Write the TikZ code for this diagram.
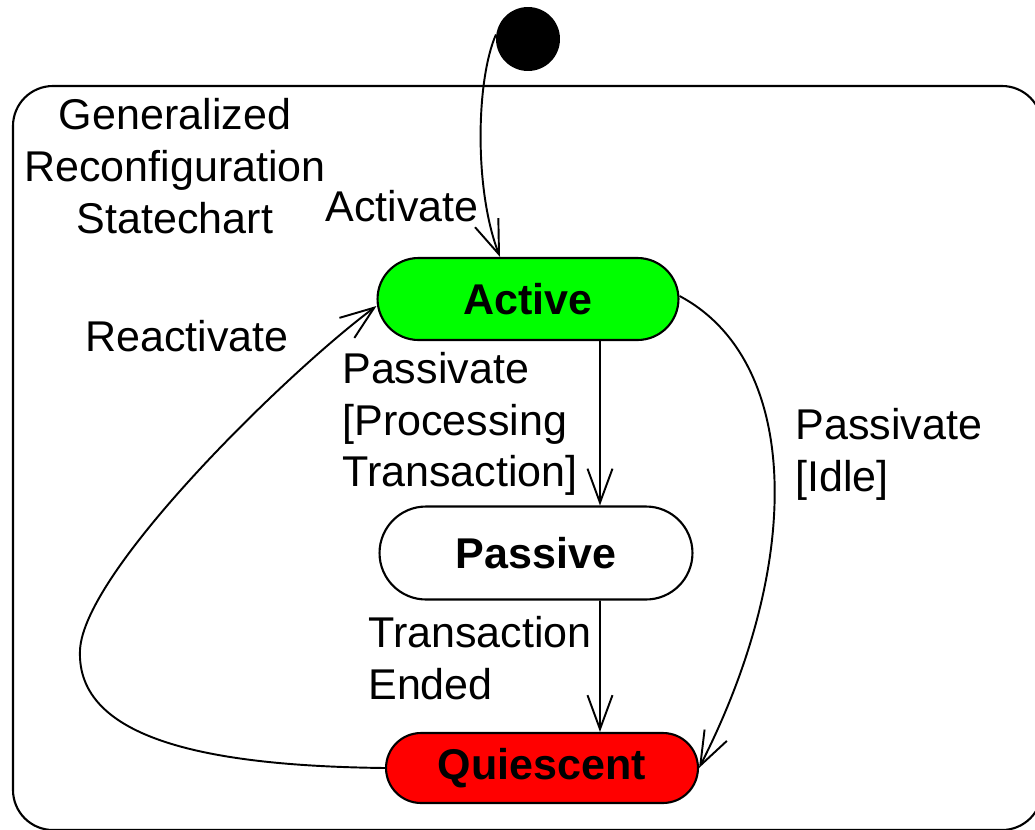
\documentclass[tikz,border=0pt]{standalone}
\usepackage{fontspec}
\setmainfont{Liberation Sans}
\usetikzlibrary{shapes.misc,arrows.meta}
\begin{document}
\begin{tikzpicture}[x=0.02cm,y=-0.02cm,
  lbl/.style={inner sep=0pt,font=\fontsize{24.5}{29.5}\selectfont},
  statebox/.style={rounded rectangle,draw,line width=1.2pt,inner sep=0pt,
    font=\fontsize{24.5}{29.5}\selectfont\bfseries},
  trans/.style={line width=1.1pt,-{Straight Barb[length=0.68cm,width=0.5cm,line width=1.1pt]}}]
  \useasboundingbox (0,0) rectangle (1035,829);
  \begin{scope}
    \clip (0,0) rectangle (1035,829);
    % enclosing superstate
    \draw[line width=1.2pt,rounded corners=0.8cm] (13,86) rectangle (1042,830);
  \end{scope}

  % initial pseudostate
  \node[circle,fill=black,minimum size=1.28cm,inner sep=0pt] (init) at (528,39) {};

  % states
  \node[statebox,fill={rgb,255:red,0;green,255;blue,0},minimum width=6.02cm,minimum height=1.64cm] (act) at (528,299) {Active};
  \node[statebox,fill=white,minimum width=6.26cm,minimum height=1.86cm] (pas) at (536,553) {Passive};
  \node[statebox,fill={rgb,255:red,255;green,0;blue,0},minimum width=6.24cm,minimum height=1.4cm] (qui) at (542,768) {Quiescent};

  % labels
  \node[lbl,align=center] (title) at (175,166) {Generalized\\Reconfiguration\\Statechart};
  \node[lbl] (lact) at (402,206) {Activate};
  \node[lbl] (lreact) at (187,336) {Reactivate};
  \node[lbl,align=left,anchor=west] (lpp) at (342,424) {Passivate\\{[}Processing\\Transaction{]}};
  \node[lbl,align=left,anchor=west] (lpi) at (795,454) {Passivate\\{[}Idle{]}};
  \node[lbl,align=left,anchor=west] (lte) at (368,658) {Transaction\\Ended};

  % transitions
  \draw[trans] (init.172) .. controls (476,80) and (474,190) .. ([xshift=-0.56cm]act.north);
  \draw[trans] ([xshift=1.44cm]act.south) -- ([xshift=1.28cm]pas.north);
  \draw[trans] ([xshift=1.28cm]pas.south) -- ([xshift=1.16cm]qui.north);
  \draw[trans] (act.east) ++(0,-3) .. controls (800,360) and (805,560) .. (qui.east);
  \draw[trans] (qui.west) .. controls (210,766) and (76,740) .. (80,650)
    .. controls (84,570) and (290,370) .. ([yshift=-0.14cm]act.west);
\end{tikzpicture}
\end{document}
